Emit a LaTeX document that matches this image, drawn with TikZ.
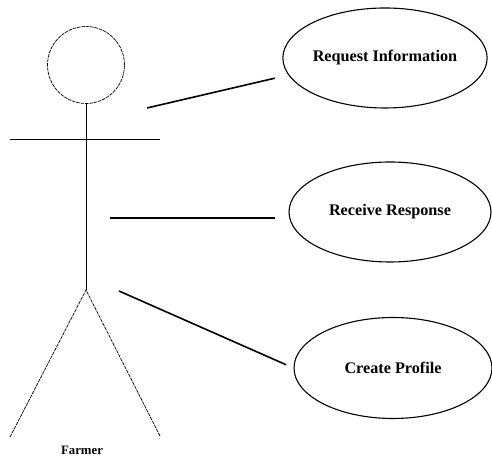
\documentclass[tikz,border=0pt]{standalone}
\usepackage{fontspec}
\setmainfont{Liberation Serif}
\usetikzlibrary{shapes.geometric}
\begin{document}
\begin{tikzpicture}[x=1pt,y=1pt,
  usecase/.style={draw, ellipse, line width=1.1pt, inner sep=0pt,
    minimum width=202pt, minimum height=100pt,
    font=\fontsize{16.2}{18}\selectfont\bfseries},
  thinline/.style={line width=0.8pt},
  finedash/.style={line width=0.7pt, dash pattern=on 3.5pt off 0.9pt},
  assoc/.style={line width=1.6pt}]
\useasboundingbox (0,0) rectangle (492,462);
% actor
\node[draw, circle, finedash, minimum size=77pt, inner sep=0pt] (head) at (86,397) {};
\coordinate (hip) at (86,172);
\coordinate (armL) at (10,323);
\coordinate (armR) at (160,323);
\coordinate (footL) at (10,25);
\coordinate (footR) at (160,26);
\draw[thinline] (head.south) -- (hip);
\draw[thinline] (armL) -- (armR);
\draw[finedash] (footL) -- (hip) -- (footR);
\node[font=\fontsize{12.8}{15}\selectfont\bfseries] (farmer) at (82,12) {Farmer};
% use cases
\node[usecase] (uc1) at (385,404) {Request Information};
\node[usecase] (uc2) at (390,250) {Receive Response};
\node[usecase, minimum width=198pt, minimum height=101pt] (uc3) at (393,94) {Create Profile};
% associations
\coordinate (c1) at (147,354);
\coordinate (c2) at (110,244);
\coordinate (c3) at (119,171);
\draw[assoc, shorten >=14pt] (c1) -- (uc1.190);
\draw[assoc, shorten >=13pt] (c2) -- (c2 -| uc2.west);
\draw[assoc, shorten >=8pt] (c3) -- (uc3.west);
\end{tikzpicture}
\end{document}
